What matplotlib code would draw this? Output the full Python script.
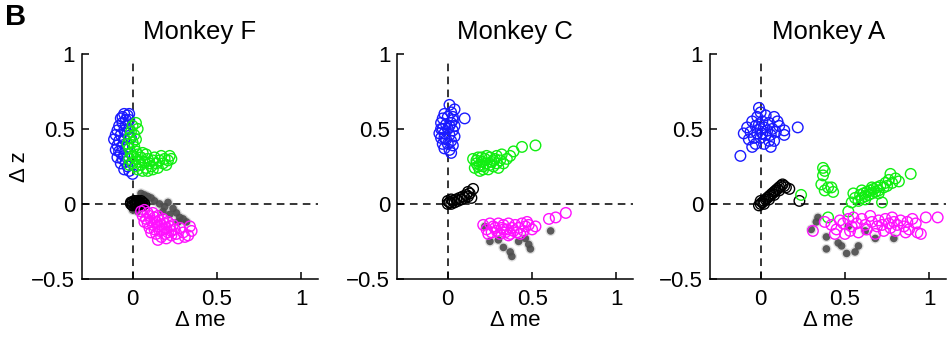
import matplotlib.pyplot as plt
import numpy as np

plt.rcParams['font.family'] = ['Liberation Sans', 'DejaVu Sans']

# ---- Monkey F ----
blue_F_x = [-0.05, -0.03, -0.07, -0.02, -0.06, -0.08, -0.04, -0.09, -0.05, -0.10, -0.07, -0.03,
            -0.11, -0.08, -0.05, -0.09, -0.06, -0.10, -0.07, -0.09, -0.06, -0.04, -0.07, -0.03,
            -0.05, -0.02, 0.00, -0.02, -0.04, -0.02, -0.06, -0.01, -0.03, -0.08, -0.05]
blue_F_y = [0.60, 0.59, 0.57, 0.56, 0.54, 0.52, 0.52, 0.49, 0.49, 0.46, 0.46, 0.47,
            0.43, 0.42, 0.43, 0.39, 0.38, 0.36, 0.34, 0.31, 0.30, 0.28, 0.27, 0.25,
            0.23, 0.22, 0.20, 0.60, 0.56, 0.50, 0.58, 0.44, 0.38, 0.35, 0.32]
green_F_x = [0.02, 0.00, 0.03, -0.01, 0.01, -0.02, 0.02, 0.00, -0.03, 0.01, -0.02, 0.02, -0.01,
             0.03, 0.00, -0.02, 0.02, 0.04, 0.00, -0.02, 0.02, 0.05, 0.03, 0.06, 0.08, 0.07,
             0.09, 0.10, 0.11, 0.12, 0.13, 0.14, 0.15, 0.16, 0.17, 0.18, 0.19, 0.20, 0.21,
             0.22, 0.23, 0.12, 0.09, 0.05, 0.06, 0.08]
green_F_y = [0.54, 0.52, 0.50, 0.48, 0.46, 0.44, 0.43, 0.41, 0.40, 0.38, 0.37, 0.35, 0.34,
             0.33, 0.32, 0.30, 0.30, 0.28, 0.27, 0.26, 0.25, 0.26, 0.23, 0.22, 0.24, 0.28,
             0.30, 0.27, 0.25, 0.29, 0.31, 0.27, 0.24, 0.29, 0.32, 0.27, 0.30, 0.26, 0.29,
             0.32, 0.30, 0.23, 0.22, 0.31, 0.34, 0.33]
black_F_x = [-0.01, 0.00, 0.01, 0.02, 0.03, 0.04, 0.05, 0.06, 0.00, 0.02, 0.04, 0.01, 0.03,
             0.05, 0.06, 0.07, -0.01, 0.02, 0.04]
black_F_y = [0.00, 0.01, 0.00, 0.01, 0.00, 0.01, 0.00, 0.01, -0.01, -0.01, -0.01, 0.02, 0.02,
             0.02, -0.01, 0.00, 0.01, 0.00, 0.00]
gray_F_x = [0.05, 0.07, 0.09, 0.11, 0.04, 0.13, 0.16, 0.19, 0.21, 0.24, 0.26, 0.28, 0.30,
            0.32, 0.27, 0.22, 0.00, 0.03, 0.08, 0.18]
gray_F_y = [0.07, 0.06, 0.05, 0.04, 0.03, 0.02, 0.00, -0.02, 0.01, -0.03, -0.06, -0.09, -0.10,
            -0.12, -0.12, -0.07, -0.04, -0.05, 0.00, -0.05]
mag_F_x = [0.05, 0.07, 0.09, 0.06, 0.08, 0.10, 0.12, 0.11, 0.13, 0.09, 0.12, 0.14, 0.15, 0.16,
           0.10, 0.13, 0.15, 0.17, 0.18, 0.19, 0.14, 0.16, 0.18, 0.20, 0.21, 0.22, 0.17, 0.19,
           0.21, 0.23, 0.24, 0.25, 0.15, 0.20, 0.23, 0.26, 0.28, 0.30, 0.27, 0.31, 0.34, 0.35,
           0.11, 0.07, 0.33]
mag_F_y = [-0.05, -0.04, -0.06, -0.08, -0.10, -0.08, -0.06, -0.11, -0.09, -0.13, -0.14, -0.12,
           -0.08, -0.11, -0.16, -0.17, -0.15, -0.14, -0.10, -0.13, -0.20, -0.18, -0.17, -0.16,
           -0.12, -0.15, -0.22, -0.20, -0.19, -0.18, -0.14, -0.17, -0.24, -0.23, -0.21, -0.20,
           -0.16, -0.19, -0.23, -0.22, -0.15, -0.18, -0.19, -0.12, -0.21]

# ---- Monkey C ----
blue_C_x = [0.01, 0.04, -0.02, 0.02, -0.03, 0.00, 0.03, 0.10, -0.04, -0.01, 0.02, 0.04, -0.03,
            0.00, 0.03, -0.05, -0.02, 0.01, 0.04, -0.04, -0.01, 0.02, -0.03, 0.00, 0.03, -0.02,
            0.01, 0.02, -0.04, 0.01, -0.02, 0.03]
blue_C_y = [0.66, 0.63, 0.60, 0.61, 0.57, 0.58, 0.56, 0.57, 0.54, 0.53, 0.54, 0.52, 0.50,
            0.50, 0.49, 0.47, 0.47, 0.46, 0.45, 0.44, 0.43, 0.42, 0.40, 0.40, 0.39, 0.37,
            0.36, 0.34, 0.50, 0.52, 0.44, 0.58]
green_C_x = [0.15, 0.17, 0.16, 0.18, 0.19, 0.20, 0.21, 0.22, 0.23, 0.24, 0.25, 0.26, 0.27,
             0.28, 0.29, 0.30, 0.31, 0.32, 0.33, 0.35, 0.37, 0.39, 0.44, 0.52, 0.17, 0.19,
             0.21, 0.23, 0.25, 0.27, 0.18, 0.20, 0.29]
green_C_y = [0.30, 0.27, 0.24, 0.31, 0.22, 0.28, 0.25, 0.30, 0.27, 0.23, 0.31, 0.28, 0.25,
             0.30, 0.27, 0.24, 0.29, 0.33, 0.27, 0.30, 0.32, 0.35, 0.38, 0.39, 0.29, 0.26,
             0.23, 0.32, 0.26, 0.29, 0.25, 0.31, 0.32]
black_C_x = [0.00, 0.01, 0.02, 0.03, 0.04, 0.05, 0.06, 0.07, 0.08, 0.09, 0.10, 0.11, 0.12,
             0.13, 0.15, 0.14, 0.00, 0.02, 0.12]
black_C_y = [0.00, 0.01, 0.00, 0.02, 0.01, 0.03, 0.02, 0.04, 0.03, 0.05, 0.04, 0.06, 0.05,
             0.07, 0.10, 0.04, 0.02, 0.03, 0.08]
gray_C_x = [0.22, 0.25, 0.33, 0.38, 0.37, 0.46, 0.49, 0.48, 0.61, 0.30, 0.42]
gray_C_y = [-0.15, -0.25, -0.29, -0.35, -0.32, -0.23, -0.30, -0.27, -0.18, -0.24, -0.25]
mag_C_x = [0.21, 0.23, 0.25, 0.26, 0.27, 0.29, 0.30, 0.31, 0.32, 0.33, 0.34, 0.35, 0.36,
           0.37, 0.38, 0.39, 0.40, 0.41, 0.42, 0.44, 0.45, 0.46, 0.48, 0.50, 0.52, 0.60,
           0.64, 0.70, 0.28, 0.36, 0.43, 0.24, 0.47, 0.33]
mag_C_y = [-0.14, -0.17, -0.13, -0.19, -0.15, -0.18, -0.13, -0.20, -0.16, -0.14, -0.19, -0.17,
           -0.13, -0.20, -0.16, -0.18, -0.14, -0.19, -0.16, -0.13, -0.18, -0.15, -0.14, -0.17,
           -0.15, -0.10, -0.09, -0.06, -0.16, -0.21, -0.20, -0.20, -0.12, -0.17]

# ---- Monkey A ----
blue_A_x = [-0.01, 0.00, -0.02, 0.03, 0.08, -0.05, 0.01, 0.05, 0.10, -0.08, -0.03, 0.00, 0.02,
            0.04, 0.07, 0.14, 0.22, -0.10, -0.06, -0.02, 0.01, 0.03, 0.06, 0.14, -0.07, -0.04,
            0.00, 0.05, 0.08, -0.03, 0.02, 0.06, -0.05, -0.12, 0.09, 0.11, -0.01]
blue_A_y = [0.64, 0.61, 0.58, 0.59, 0.58, 0.55, 0.55, 0.54, 0.55, 0.51, 0.52, 0.50, 0.51,
            0.49, 0.50, 0.49, 0.51, 0.47, 0.48, 0.47, 0.47, 0.46, 0.46, 0.46, 0.43, 0.44,
            0.44, 0.42, 0.42, 0.40, 0.40, 0.38, 0.38, 0.32, 0.48, 0.52, 0.53]
green_A_x = [0.37, 0.38, 0.37, 0.36, 0.38, 0.40, 0.42, 0.43, 0.24, 0.40, 0.52, 0.54, 0.56,
             0.58, 0.59, 0.60, 0.61, 0.62, 0.63, 0.64, 0.65, 0.66, 0.67, 0.68, 0.69, 0.70,
             0.71, 0.72, 0.73, 0.74, 0.75, 0.76, 0.77, 0.78, 0.80, 0.82, 0.89, 0.62, 0.66,
             0.70, 0.55, 0.60]
green_A_y = [0.24, 0.22, 0.19, 0.13, 0.09, 0.11, 0.11, 0.08, 0.06, -0.09, -0.05, 0.01, 0.04,
             0.02, 0.06, 0.04, 0.07, 0.05, 0.08, 0.06, 0.09, 0.07, 0.10, 0.08, 0.11, 0.09,
             0.12, 0.01, 0.11, 0.14, 0.12, 0.16, 0.20, 0.14, 0.17, 0.15, 0.20, 0.03, 0.11,
             0.07, 0.07, 0.09]
black_A_x = [-0.01, 0.00, 0.01, 0.02, 0.03, 0.04, 0.05, 0.06, 0.07, 0.08, 0.09, 0.10, 0.11,
             0.12, 0.13, 0.14, 0.15, 0.17, 0.23, 0.02, 0.05, 0.08, 0.11, 0.00]
black_A_y = [-0.01, 0.00, 0.01, 0.02, 0.03, 0.04, 0.05, 0.06, 0.07, 0.08, 0.09, 0.10, 0.11,
             0.12, 0.13, 0.12, 0.11, 0.10, 0.02, 0.00, 0.03, 0.06, 0.09, 0.02]
gray_A_x = [0.30, 0.34, 0.39, 0.39, 0.46, 0.51, 0.56, 0.58, 0.62, 0.52, 0.68, 0.79, 0.33, 0.48]
gray_A_y = [-0.17, -0.09, -0.22, -0.30, -0.26, -0.33, -0.32, -0.28, -0.18, -0.15, -0.23, -0.23,
            -0.12, -0.28]
mag_A_x = [0.31, 0.38, 0.42, 0.45, 0.47, 0.49, 0.50, 0.52, 0.54, 0.55, 0.57, 0.58, 0.60, 0.62,
           0.63, 0.65, 0.66, 0.68, 0.69, 0.70, 0.72, 0.73, 0.74, 0.76, 0.77, 0.78, 0.79, 0.80,
           0.81, 0.83, 0.85, 0.87, 0.88, 0.90, 0.92, 0.93, 0.95, 0.98, 1.05, 0.53, 0.44, 0.86]
mag_A_y = [-0.18, -0.12, -0.14, -0.17, -0.11, -0.13, -0.20, -0.10, -0.15, -0.09, -0.13, -0.19,
           -0.10, -0.14, -0.17, -0.08, -0.12, -0.20, -0.15, -0.11, -0.14, -0.18, -0.10, -0.13,
           -0.16, -0.09, -0.12, -0.18, -0.14, -0.11, -0.15, -0.12, -0.17, -0.10, -0.13, -0.19,
           -0.20, -0.09, -0.09, -0.18, -0.20, -0.19]

monkeys = ['Monkey F', 'Monkey C', 'Monkey A']
panels = [
    (gray_F_x, gray_F_y, black_F_x, black_F_y, blue_F_x, blue_F_y, green_F_x, green_F_y, mag_F_x, mag_F_y),
    (gray_C_x, gray_C_y, black_C_x, black_C_y, blue_C_x, blue_C_y, green_C_x, green_C_y, mag_C_x, mag_C_y),
    (gray_A_x, gray_A_y, black_A_x, black_A_y, blue_A_x, blue_A_y, green_A_x, green_A_y, mag_A_x, mag_A_y),
]
lefts = [0.0865, 0.419, 0.749]

fig = plt.figure(figsize=(9.48, 3.41), dpi=100)
ms = 58
for i in range(3):
    gx, gy, kx, ky, bx, by, grx, gry, mx, my = panels[i]
    ax = fig.add_axes([lefts[i], 0.182, 0.249, 0.66])
    # dashed reference lines through the origin
    ax.axhline(0, color='k', lw=1.1, dashes=(5, 3.5), zorder=1)
    ax.plot([0, 0], [-0.5, 0.96], color='k', lw=1.1, dashes=(5, 3.5), zorder=1)
    # fuzzy grey dots: soft halo plus dark core
    ax.scatter(gx, gy, s=55, color='0.6', alpha=0.3, edgecolors='none', zorder=2)
    ax.scatter(gx, gy, s=30, color='0.3', alpha=0.9, edgecolors='none', zorder=2)
    ax.scatter(kx, ky, s=ms, facecolors='none', edgecolors='k', lw=1.0, zorder=3)
    ax.scatter(bx, by, s=ms, facecolors='none', edgecolors='#1a1aff', lw=1.0, zorder=3)
    ax.scatter(grx, gry, s=ms, facecolors='none', edgecolors='#11ee11', lw=1.0, zorder=4)
    ax.scatter(mx, my, s=ms, facecolors='none', edgecolors='#ff11ff', lw=1.0, zorder=4)

    ax.set_xlim(-0.3, 1.1)
    ax.set_ylim(-0.5, 1)
    ax.spines['top'].set_visible(False)
    ax.spines['right'].set_visible(False)
    ax.spines['left'].set_linewidth(1.1)
    ax.spines['bottom'].set_linewidth(1.1)
    ax.set_xticks([0, 0.5, 1])
    ax.set_xticklabels(['0', '0.5', '1'])
    ax.set_yticks([-0.5, 0, 0.5, 1])
    ax.set_yticklabels(['\u22120.5', '0', '0.5', '1'])
    ax.tick_params(direction='in', length=5, width=1.1, labelsize=16)
    ax.tick_params(axis='x', pad=7)
    ax.tick_params(axis='y', pad=5)
    ax.set_xlabel('\u0394 me', fontsize=16, labelpad=0)
    ax.set_title(monkeys[i], fontsize=18.5, pad=11)
    if i == 0:
        ax.set_ylabel('\u0394 z', fontsize=16, labelpad=1)

fig.text(0.005, 0.99, 'B', fontsize=21, fontweight='bold', va='top', ha='left')
fig.savefig('out.png', dpi=100)
